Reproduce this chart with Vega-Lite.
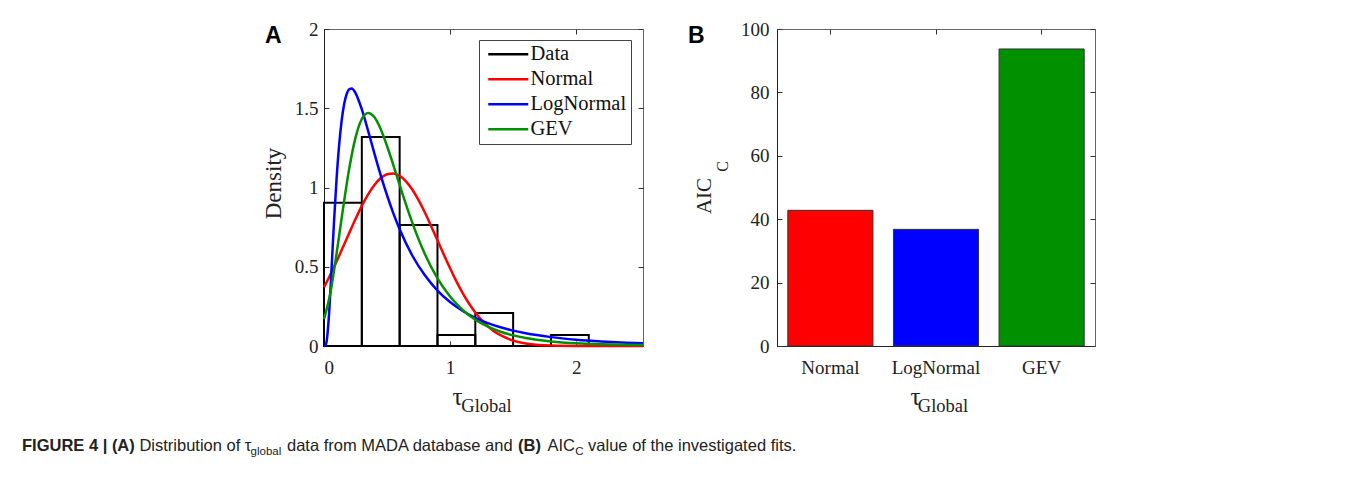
{
  "$schema": "https://vega.github.io/schema/vega-lite/v6.json",
  "background": "white",
  "padding": {"left": 22, "top": 19, "right": 10, "bottom": 10},
  "config": {
    "font": "Liberation Serif",
    "view": {"stroke": "#666", "strokeWidth": 1},
    "axis": {
      "labelFont": "Liberation Serif", "labelFontSize": 19, "labelColor": "#222",
      "titleFont": "Liberation Serif", "titleColor": "#222", "titleFontWeight": "normal",
      "grid": false, "domainColor": "#222", "tickColor": "#333", "tickSize": -5
    }
  },
  "datasets": {
    "hist": [
      {"x0": 0.0, "x1": 0.3, "density": 0.903, "dist": "Data"},
      {"x0": 0.3, "x1": 0.6, "density": 1.319, "dist": "Data"},
      {"x0": 0.6, "x1": 0.9, "density": 0.764, "dist": "Data"},
      {"x0": 0.9, "x1": 1.2, "density": 0.069, "dist": "Data"},
      {"x0": 1.2, "x1": 1.5, "density": 0.208, "dist": "Data"},
      {"x0": 1.5, "x1": 1.8, "density": 0.0, "dist": "Data"},
      {"x0": 1.8, "x1": 2.1, "density": 0.069, "dist": "Data"}
    ],
    "curves": [
      {"dist": "Normal", "x": 0, "density": 0.371},
      {"dist": "Normal", "x": 0.05, "density": 0.45},
      {"dist": "Normal", "x": 0.1, "density": 0.534},
      {"dist": "Normal", "x": 0.15, "density": 0.623},
      {"dist": "Normal", "x": 0.2, "density": 0.713},
      {"dist": "Normal", "x": 0.25, "density": 0.801},
      {"dist": "Normal", "x": 0.3, "density": 0.884},
      {"dist": "Normal", "x": 0.35, "density": 0.957},
      {"dist": "Normal", "x": 0.4, "density": 1.016},
      {"dist": "Normal", "x": 0.45, "density": 1.06},
      {"dist": "Normal", "x": 0.5, "density": 1.084},
      {"dist": "Normal", "x": 0.55, "density": 1.089},
      {"dist": "Normal", "x": 0.6, "density": 1.074},
      {"dist": "Normal", "x": 0.65, "density": 1.039},
      {"dist": "Normal", "x": 0.7, "density": 0.987},
      {"dist": "Normal", "x": 0.75, "density": 0.92},
      {"dist": "Normal", "x": 0.8, "density": 0.842},
      {"dist": "Normal", "x": 0.85, "density": 0.756},
      {"dist": "Normal", "x": 0.9, "density": 0.667},
      {"dist": "Normal", "x": 0.95, "density": 0.577},
      {"dist": "Normal", "x": 1.0, "density": 0.49},
      {"dist": "Normal", "x": 1.05, "density": 0.408},
      {"dist": "Normal", "x": 1.1, "density": 0.334},
      {"dist": "Normal", "x": 1.15, "density": 0.268},
      {"dist": "Normal", "x": 1.2, "density": 0.211},
      {"dist": "Normal", "x": 1.25, "density": 0.163},
      {"dist": "Normal", "x": 1.3, "density": 0.124},
      {"dist": "Normal", "x": 1.35, "density": 0.092},
      {"dist": "Normal", "x": 1.4, "density": 0.068},
      {"dist": "Normal", "x": 1.5, "density": 0.034},
      {"dist": "Normal", "x": 1.6, "density": 0.016},
      {"dist": "Normal", "x": 1.7, "density": 0.007},
      {"dist": "Normal", "x": 1.8, "density": 0.003},
      {"dist": "Normal", "x": 2.0, "density": 0.0004},
      {"dist": "Normal", "x": 2.2, "density": 0.0},
      {"dist": "Normal", "x": 2.53, "density": 0.0},
      {"dist": "LogNormal", "x": 0, "density": 0.0},
      {"dist": "LogNormal", "x": 0.01, "density": 0.002},
      {"dist": "LogNormal", "x": 0.02, "density": 0.025},
      {"dist": "LogNormal", "x": 0.04, "density": 0.201},
      {"dist": "LogNormal", "x": 0.06, "density": 0.49},
      {"dist": "LogNormal", "x": 0.08, "density": 0.792},
      {"dist": "LogNormal", "x": 0.1, "density": 1.058},
      {"dist": "LogNormal", "x": 0.12, "density": 1.268},
      {"dist": "LogNormal", "x": 0.14, "density": 1.422},
      {"dist": "LogNormal", "x": 0.16, "density": 1.527},
      {"dist": "LogNormal", "x": 0.18, "density": 1.59},
      {"dist": "LogNormal", "x": 0.2, "density": 1.62},
      {"dist": "LogNormal", "x": 0.22, "density": 1.625},
      {"dist": "LogNormal", "x": 0.25, "density": 1.596},
      {"dist": "LogNormal", "x": 0.3, "density": 1.493},
      {"dist": "LogNormal", "x": 0.35, "density": 1.357},
      {"dist": "LogNormal", "x": 0.4, "density": 1.214},
      {"dist": "LogNormal", "x": 0.45, "density": 1.077},
      {"dist": "LogNormal", "x": 0.5, "density": 0.951},
      {"dist": "LogNormal", "x": 0.55, "density": 0.837},
      {"dist": "LogNormal", "x": 0.6, "density": 0.737},
      {"dist": "LogNormal", "x": 0.7, "density": 0.571},
      {"dist": "LogNormal", "x": 0.8, "density": 0.446},
      {"dist": "LogNormal", "x": 0.9, "density": 0.35},
      {"dist": "LogNormal", "x": 1.0, "density": 0.277},
      {"dist": "LogNormal", "x": 1.1, "density": 0.221},
      {"dist": "LogNormal", "x": 1.2, "density": 0.178},
      {"dist": "LogNormal", "x": 1.3, "density": 0.144},
      {"dist": "LogNormal", "x": 1.4, "density": 0.118},
      {"dist": "LogNormal", "x": 1.5, "density": 0.097},
      {"dist": "LogNormal", "x": 1.6, "density": 0.08},
      {"dist": "LogNormal", "x": 1.8, "density": 0.056},
      {"dist": "LogNormal", "x": 2.0, "density": 0.04},
      {"dist": "LogNormal", "x": 2.2, "density": 0.029},
      {"dist": "LogNormal", "x": 2.4, "density": 0.021},
      {"dist": "LogNormal", "x": 2.53, "density": 0.017},
      {"dist": "GEV", "x": 0, "density": 0.17},
      {"dist": "GEV", "x": 0.05, "density": 0.333},
      {"dist": "GEV", "x": 0.1, "density": 0.584},
      {"dist": "GEV", "x": 0.15, "density": 0.862},
      {"dist": "GEV", "x": 0.2, "density": 1.119},
      {"dist": "GEV", "x": 0.25, "density": 1.315},
      {"dist": "GEV", "x": 0.3, "density": 1.432},
      {"dist": "GEV", "x": 0.35, "density": 1.47},
      {"dist": "GEV", "x": 0.4, "density": 1.443},
      {"dist": "GEV", "x": 0.45, "density": 1.368},
      {"dist": "GEV", "x": 0.5, "density": 1.262},
      {"dist": "GEV", "x": 0.55, "density": 1.141},
      {"dist": "GEV", "x": 0.6, "density": 1.016},
      {"dist": "GEV", "x": 0.65, "density": 0.893},
      {"dist": "GEV", "x": 0.7, "density": 0.778},
      {"dist": "GEV", "x": 0.8, "density": 0.58},
      {"dist": "GEV", "x": 0.9, "density": 0.426},
      {"dist": "GEV", "x": 1.0, "density": 0.312},
      {"dist": "GEV", "x": 1.1, "density": 0.227},
      {"dist": "GEV", "x": 1.2, "density": 0.166},
      {"dist": "GEV", "x": 1.3, "density": 0.122},
      {"dist": "GEV", "x": 1.4, "density": 0.09},
      {"dist": "GEV", "x": 1.5, "density": 0.067},
      {"dist": "GEV", "x": 1.6, "density": 0.05},
      {"dist": "GEV", "x": 1.8, "density": 0.029},
      {"dist": "GEV", "x": 2.0, "density": 0.017},
      {"dist": "GEV", "x": 2.2, "density": 0.011},
      {"dist": "GEV", "x": 2.4, "density": 0.008},
      {"dist": "GEV", "x": 2.53, "density": 0.007}
    ],
    "aic": [
      {"dist": "Normal", "aic": 42.8},
      {"dist": "LogNormal", "aic": 36.8},
      {"dist": "GEV", "aic": 93.7}
    ]
  },
  "title": {"text": "global", "orient": "bottom", "anchor": "start", "frame": "group", "dx": -73.4, "dy": -11.5, "offset": 0,
    "font": "Liberation Sans", "fontSize": 11.5, "fontWeight": "normal", "color": "#222"},
  "vconcat": [{
    "title": {"text": "C", "orient": "bottom", "anchor": "start", "frame": "group", "dx": 251.2, "dy": -9, "offset": 0,
      "font": "Liberation Sans", "fontSize": 11.5, "fontWeight": "normal", "color": "#222"},
    "vconcat": [{
      "title": {"text": "FIGURE 4 | (A)", "orient": "bottom", "anchor": "start", "frame": "group", "dx": -302, "dy": -16.5, "offset": 0,
        "font": "Liberation Sans", "fontSize": 16.5, "fontWeight": "bold", "color": "#222"},
      "vconcat": [{
        "title": {"text": "Distribution of τ", "orient": "bottom", "anchor": "start", "frame": "group", "dx": -184.6, "dy": -16.5, "offset": 0,
          "font": "Liberation Sans", "fontSize": 16.5, "fontWeight": "normal", "color": "#222"},
        "vconcat": [{
          "title": {"text": "data from MADA database and", "orient": "bottom", "anchor": "start", "frame": "group", "dx": -37, "dy": -16.5, "offset": 0,
            "font": "Liberation Sans", "fontSize": 16.5, "fontWeight": "normal", "color": "#222"},
          "vconcat": [{
            "title": {"text": "(B)", "orient": "bottom", "anchor": "start", "frame": "group", "dx": 194, "dy": -16.5, "offset": 0,
              "font": "Liberation Sans", "fontSize": 16.5, "fontWeight": "bold", "color": "#222"},
            "vconcat": [{
              "title": {"text": "AIC", "orient": "bottom", "anchor": "start", "frame": "group", "dx": 223.5, "dy": -16.5, "offset": 0,
                "font": "Liberation Sans", "fontSize": 16.5, "fontWeight": "normal", "color": "#222"},
              "vconcat": [{
                "title": {"text": "value of the investigated fits.", "orient": "bottom", "anchor": "start", "frame": "group", "dx": 264.1, "offset": 23,
                  "font": "Liberation Sans", "fontSize": 16.5, "fontWeight": "normal", "color": "#222"},
                "spacing": 38,
                "resolve": {"scale": {"color": "independent"}, "legend": {"color": "independent"}},
                "hconcat": [
                  {
                    "width": 319, "height": 317,
                    "title": {"text": "A", "anchor": "start", "frame": "bounds", "orient": "top", "offset": -20, "dx": 3, "dy": 26,
                      "font": "Liberation Sans", "fontSize": 23, "fontWeight": "bold", "color": "#000", "baseline": "alphabetic"},
                    "layer": [
                      {
                        "data": {"name": "hist"},
                        "mark": {"type": "rect", "filled": false, "strokeWidth": 2},
                        "encoding": {
                          "x": {"field": "x0", "type": "quantitative", "scale": {"domain": [0, 2.53], "nice": false},
                            "axis": {"orient": "bottom", "values": [0, 1, 2], "format": "~g", "labelPadding": 17,
                              "title": "τ", "titleFontSize": 25, "titleX": 133, "titleY": 58, "titleBaseline": "alphabetic", "titleAlign": "center"}},
                          "x2": {"field": "x1"},
                          "y": {"field": "density", "type": "quantitative", "scale": {"domain": [0, 2], "nice": false},
                            "axis": {"orient": "left", "values": [0, 0.5, 1, 1.5, 2], "format": "~g", "labelPadding": 11,
                              "title": "Density", "titleFontSize": 23, "titleX": -44, "titleY": 154, "titleBaseline": "alphabetic", "titleAlign": "center", "titleAngle": -90}},
                          "y2": {"datum": 0},
                          "color": {"field": "dist", "type": "nominal",
                            "scale": {"domain": ["Data", "Normal", "LogNormal", "GEV"], "range": ["#000000", "#ff0000", "#0000ff", "#009000"]},
                            "legend": {"title": null, "orient": "none", "legendX": 155, "legendY": 11,
                              "padding": 4, "strokeColor": "#444", "fillColor": "white",
                              "symbolType": "M-1,0H7", "symbolSize": 100, "symbolStrokeWidth": 2.5,
                              "labelFont": "Liberation Serif", "labelFontSize": 20.5, "labelColor": "#111", "labelOffset": 27,
                              "rowPadding": 4}}
                        }
                      },
                      {
                        "data": {"name": "curves"},
                        "mark": {"type": "line", "interpolate": "monotone", "strokeWidth": 2.5},
                        "encoding": {
                          "x": {"field": "x", "type": "quantitative",
                            "axis": {"orient": "top", "values": [0, 1, 2], "labels": false, "domain": false,
                              "title": "Global", "titleFontSize": 18.5, "titleX": 162, "titleY": 382, "titleBaseline": "alphabetic", "titleAlign": "center"}},
                          "y": {"field": "density", "type": "quantitative",
                            "axis": {"orient": "right", "values": [0, 0.5, 1, 1.5, 2], "labels": false, "domain": false, "title": null}},
                          "color": {"field": "dist", "type": "nominal"}
                        }
                      }
                    ],
                    "resolve": {"axis": {"x": "independent", "y": "independent"}}
                  },
                  {
                    "width": 318, "height": 317,
                    "title": {"text": "B", "anchor": "start", "frame": "bounds", "orient": "top", "offset": -20, "dx": -5, "dy": 26,
                      "font": "Liberation Sans", "fontSize": 23, "fontWeight": "bold", "color": "#000", "baseline": "alphabetic"},
                    "data": {"name": "aic"},
                    "layer": [
                      {
                        "mark": {"type": "bar"},
                        "encoding": {
                          "x": {"field": "dist", "type": "nominal", "sort": ["Normal", "LogNormal", "GEV"],
                            "scale": {"paddingInner": 0.194, "paddingOuter": 0.1025},
                            "axis": {"orient": "bottom", "labelAngle": 0, "labelPadding": 17,
                              "title": "τ", "titleFontSize": 25, "titleX": 138, "titleY": 58, "titleBaseline": "alphabetic", "titleAlign": "center"}},
                          "y": {"field": "aic", "type": "quantitative", "scale": {"domain": [0, 100], "nice": false},
                            "axis": {"orient": "left", "values": [0, 20, 40, 60, 80, 100], "labelPadding": 13,
                              "title": "AIC", "titleFontSize": 21, "titleX": -67, "titleY": 166.5, "titleBaseline": "alphabetic", "titleAlign": "center", "titleAngle": -90}},
                          "color": {"field": "dist", "type": "nominal",
                            "scale": {"domain": ["Normal", "LogNormal", "GEV"], "range": ["#ff0000", "#0000ff", "#009000"]}, "legend": null}
                        }
                      },
                      {
                        "mark": {"type": "bar", "filled": false, "color": "#333", "strokeWidth": 1},
                        "encoding": {
                          "x": {"field": "dist", "type": "nominal", "sort": ["Normal", "LogNormal", "GEV"],
                            "axis": {"orient": "top", "labels": false, "domain": false,
                              "title": "Global", "titleFontSize": 18.5, "titleX": 165.5, "titleY": 382, "titleBaseline": "alphabetic", "titleAlign": "center"}},
                          "y": {"field": "aic", "type": "quantitative",
                            "axis": {"orient": "right", "values": [0, 20, 40, 60, 80, 100], "labels": false, "domain": false,
                              "title": "C", "titleFontSize": 16, "titleX": -368, "titleY": 137, "titleBaseline": "alphabetic", "titleAlign": "center", "titleAngle": -90}}
                        }
                      }
                    ],
                    "resolve": {"axis": {"x": "independent", "y": "independent"}}
                  }
                ]
              }]
            }]
          }]
        }]
      }]
    }]
  }]
}
